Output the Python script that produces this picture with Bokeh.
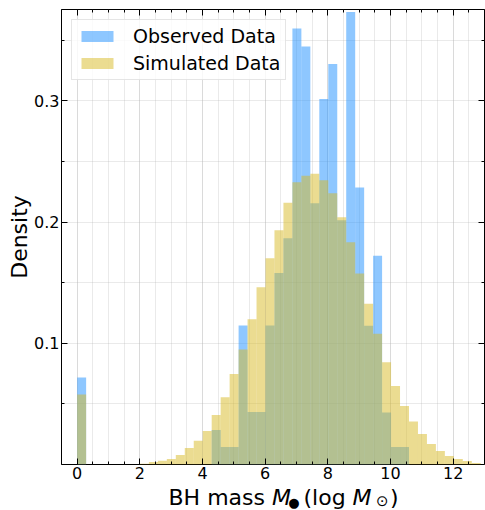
import numpy as np
from bokeh.plotting import figure
from bokeh.layouts import column
from bokeh.models import (ColumnDataSource, Range1d, FixedTicker, LinearAxis,
                          Label, Legend, LegendItem, CustomJSTickFormatter)
from bokeh.embed import file_html
from bokeh.resources import INLINE

# ---- data ----
bin_edges = np.linspace(0.0, 12.88, 46)   # 45 common bins, log M_sun

observed_density = [
    0.0717, 0, 0, 0, 0, 0, 0, 0, 0, 0, 0, 0, 0, 0, 0,
    0.0284, 0.0144, 0.0144, 0.1147, 0.0433, 0.0433, 0.1147, 0.1580, 0.1867,
    0.3598, 0.3450, 0.2156, 0.3017, 0.3306, 0.2016, 0.3735, 0.2285, 0.1146,
    0.1723, 0.0429, 0.0144, 0.0144,
    0, 0, 0, 0, 0, 0, 0, 0,
]
simulated_density = [
    0.0577, 0, 0, 0, 0, 0, 0,
    0.0007, 0.0020, 0.0030, 0.0045, 0.0078, 0.0136, 0.0196, 0.0276, 0.0408,
    0.0556, 0.0746, 0.0950, 0.1199, 0.1463, 0.1702, 0.1933, 0.2160, 0.2329,
    0.2383, 0.2399, 0.2345, 0.2238, 0.2040, 0.1835, 0.1577, 0.1327, 0.1080,
    0.0844, 0.0647, 0.0482, 0.0355, 0.0251, 0.0169, 0.0111, 0.0070, 0.0045,
    0.0029, 0.0012,
]
series_labels = ["Observed Data", "Simulated Data"]
x_major = [0, 2, 4, 6, 8, 10, 12]
x_minor = [v * 0.5 for v in range(-1, 27)]
y_major = [0.1, 0.2, 0.3]
y_minor = [0.05, 0.15, 0.25, 0.35]
y_label = "Density"

assert len(observed_density) == 45 and len(simulated_density) == 45

FONT = "DejaVu Sans"

src = ColumnDataSource(dict(left=bin_edges[:-1], right=bin_edges[1:],
                            obs=observed_density, sim=simulated_density))

p = figure(width=485, height=486, x_range=Range1d(-0.5, 13.0),
           y_range=Range1d(0, 0.3755), output_backend="svg",
           toolbar_location=None, min_border_left=61, min_border_right=1,
           min_border_top=9, min_border_bottom=22,
           background_fill_color="white", border_fill_color="white")

r_obs = p.quad(left="left", right="right", bottom=0, top="obs", source=src,
               fill_color="#1E90FF", fill_alpha=0.5, line_color=None)
r_sim = p.quad(left="left", right="right", bottom=0, top="sim", source=src,
               fill_color="#D7B923", fill_alpha=0.5, line_color=None)

xt = FixedTicker(ticks=x_major, minor_ticks=x_minor)
yt = FixedTicker(ticks=y_major, minor_ticks=y_minor)
blank = CustomJSTickFormatter(code="return ''")

def style_axis(ax, show_labels=True):
    ax.major_tick_in = 6
    ax.major_tick_out = 0
    ax.minor_tick_in = 3
    ax.minor_tick_out = 0
    ax.major_tick_line_color = "black"
    ax.minor_tick_line_color = "black"
    ax.axis_line_color = None
    if show_labels:
        ax.major_label_text_font = FONT
        ax.major_label_text_font_size = "16px"
        ax.major_label_text_color = "black"
        ax.major_label_standoff = 2
    else:
        ax.formatter = blank
        ax.major_label_standoff = 0

p.xaxis.ticker = xt
p.yaxis.ticker = yt
style_axis(p.xaxis[0])
style_axis(p.yaxis[0])
p.yaxis.axis_label = y_label
p.yaxis.axis_label_text_font = FONT
p.yaxis.axis_label_text_font_size = "22px"
p.yaxis.axis_label_text_font_style = "normal"
p.yaxis.axis_label_text_color = "black"
p.yaxis.axis_label_standoff = -1

top_ax = LinearAxis(ticker=xt)
style_axis(top_ax, False)
p.add_layout(top_ax, "above")
right_ax = LinearAxis(ticker=yt)
style_axis(right_ax, False)
p.add_layout(right_ax, "right")

for g in (p.xgrid[0], p.ygrid[0]):
    g.grid_line_color = "#b0b0b0"
    g.grid_line_alpha = 0.27
    g.minor_grid_line_color = "#b0b0b0"
    g.minor_grid_line_alpha = 0.27
p.xgrid.ticker = xt
p.ygrid.ticker = yt

p.outline_line_color = "black"
p.outline_line_width = 1
p.outline_line_alpha = 1

legend = Legend(items=[LegendItem(label=series_labels[0], renderers=[r_obs]),
                       LegendItem(label=series_labels[1], renderers=[r_sim])],
                location="top_left")
legend.label_text_font = FONT
legend.label_text_font_size = "19px"
legend.label_text_color = "black"
legend.glyph_width = 40
legend.glyph_height = 14
legend.label_standoff = 16
legend.padding = 5
legend.spacing = 5
legend.margin = 10
legend.border_line_color = "#cccccc"
legend.background_fill_alpha = 0.8
p.add_layout(legend)

# ---- x-axis title strip: "BH mass M● (log M⊙)" ----
# (frame of this strip is aligned with the main frame: x measured from x=61)
strip_h = 24
t = figure(width=485, height=strip_h, x_range=Range1d(0, 1),
           y_range=Range1d(0, 1), output_backend="svg",
           toolbar_location=None, x_axis_type=None, y_axis_type=None,
           min_border=0, outline_line_color=None,
           background_fill_color="white", border_fill_color="white")
t.grid.visible = False

pieces = [  # text, x, y (middle of text box, px from strip bottom), size, style
    ("BH mass", 107.0, 12.6, "22px", "normal"),
    ("M", 210.5, 12.6, "22px", "italic"),
    ("\u25CF", 226.7, 7.6, "13px", "normal"),
    ("(log", 242.0, 12.6, "22px", "normal"),
    ("M", 291.0, 12.6, "22px", "italic"),
    ("\u2299", 314.5, 10.0, "15px", "normal"),
    (")", 328.5, 12.6, "22px", "normal"),
]
for txt, fx, fy, fs, style in pieces:
    t.add_layout(Label(x=fx, y=fy, x_units="screen", y_units="screen",
                       text=txt, text_align="left", text_baseline="middle",
                       text_font=FONT, text_font_size=fs,
                       text_font_style=style, text_color="black"))

layout = column(p, t, spacing=0)
open("out.html", "w").write(file_html(layout, INLINE))
